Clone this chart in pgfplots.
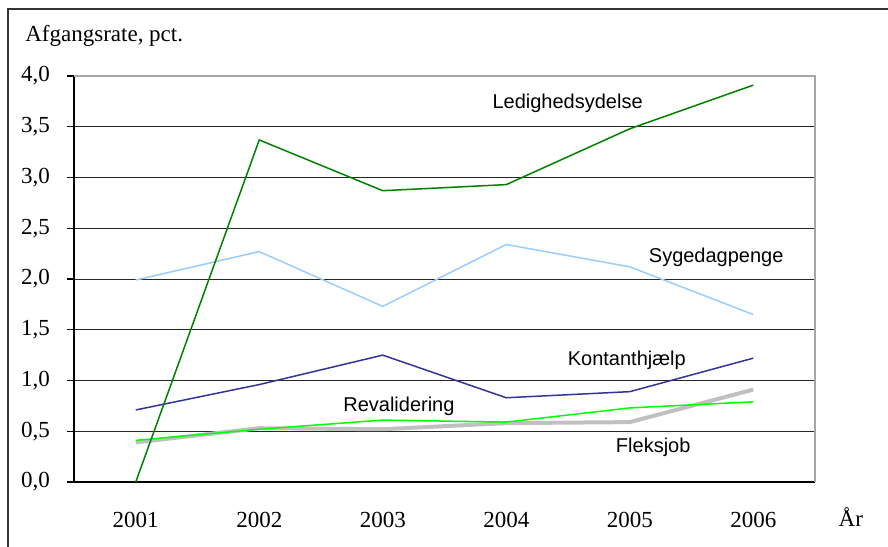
\documentclass[border=0pt]{standalone}
\usepackage{pgfplots}
\pgfplotsset{compat=1.18}
\usepackage{fontspec}
\setmainfont{Liberation Serif}
\newfontfamily\arialfont{Liberation Sans}

\definecolor{ledgreen}{HTML}{008000}
\definecolor{sygblue}{HTML}{99CCFF}
\definecolor{kontnavy}{HTML}{333399}
\definecolor{revgreen}{HTML}{00FF00}
\definecolor{fleksgray}{HTML}{C0C0C0}

\begin{document}
\begin{tikzpicture}
\useasboundingbox (-37pt,-32pt) rectangle (407pt,241pt);
\draw[line width=0.75pt, black!80] (-33pt,-60pt) |- (460pt,236.5pt);
\begin{axis}[
    at={(0,0)}, anchor=south west,
    scale only axis,
    width=370.5pt, height=203pt,
    xmin=0.5, xmax=6.5,
    ymin=0, ymax=4,
    axis x line*=bottom, axis y line*=left,
    axis line style={black, line width=0.6pt},
    xtick={1,...,6},
    xticklabels={2001,2002,2003,2004,2005,2006},
    xtick style={draw=none},
    minor xtick={0.5,1.5,...,6.5},
    ytick={0,0.5,...,4},
    tick align=outside,
    major tick length=3.5pt,
    minor tick length=3.5pt,
    every tick/.style={black, line width=0.6pt},
    ymajorgrids,
    major grid style={black!85, line width=0.5pt},
    /pgf/number format/assume math mode=true,
    /pgf/number format/use comma,
    /pgf/number format/fixed,
    /pgf/number format/fixed zerofill,
    /pgf/number format/precision=1,
    tick label style={font=\fontsize{11.5}{13}\selectfont},
    xticklabel style={yshift=-8pt},
    yticklabel style={xshift=-5pt},
    clip=false,
]
\draw[gray!70, line width=0.6pt] (rel axis cs:0,1) -| (rel axis cs:1,0);

\addplot[color=sygblue, line width=0.75pt] coordinates {
    (1,1.99) (2,2.27) (3,1.73) (4,2.34) (5,2.12) (6,1.65)
};
\addplot[color=kontnavy, line width=0.75pt] coordinates {
    (1,0.71) (2,0.96) (3,1.25) (4,0.83) (5,0.89) (6,1.22)
};
\addplot[color=fleksgray, line width=2pt] coordinates {
    (1,0.39) (2,0.53) (3,0.52) (4,0.58) (5,0.59) (6,0.91)
};
\addplot[color=revgreen, line width=0.75pt] coordinates {
    (1,0.41) (2,0.52) (3,0.61) (4,0.59) (5,0.73) (6,0.79)
};
\addplot[color=ledgreen, line width=0.75pt] coordinates {
    (1,0) (2,3.37) (3,2.87) (4,2.93) (5,3.48) (6,3.91)
};

\node[font=\arialfont\fontsize{10}{12}\selectfont] at (axis cs:4.497,3.73) {Ledighedsydelse};
\node[font=\arialfont\fontsize{10}{12}\selectfont] at (axis cs:5.70,2.21) {Sygedagpenge};
\node[font=\arialfont\fontsize{10}{12}\selectfont] at (axis cs:4.976,1.20) {Kontanthjælp};
\node[font=\arialfont\fontsize{10}{12}\selectfont] at (axis cs:3.131,0.75) {Revalidering};
\node[font=\arialfont\fontsize{10}{12}\selectfont] at (axis cs:5.19,0.34) {Fleksjob};

\node[anchor=west, inner sep=0pt, font=\fontsize{11.5}{13}\selectfont] at (axis cs:0.103,4.40) {Afgangsrate, pct.};
\node[font=\fontsize{11.5}{13}\selectfont] at (axis cs:6.79,-0.35) {År};
\end{axis}
\end{tikzpicture}
\end{document}
